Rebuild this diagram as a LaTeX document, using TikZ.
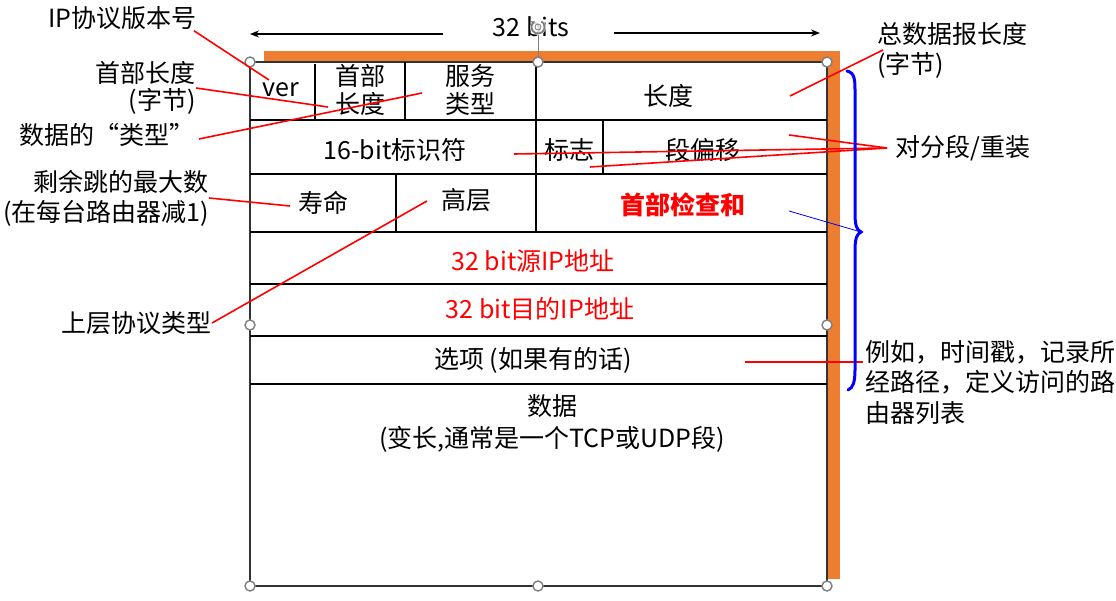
\documentclass[tikz,border=0pt]{standalone}
\usepackage{fontspec}
\setmainfont{Noto Sans CJK SC}
\usetikzlibrary{arrows.meta}
\definecolor{frameorange}{HTML}{ED7D31}
\definecolor{handlegray}{HTML}{7F7F7F}
\definecolor{pured}{HTML}{FF0000}
\definecolor{pureblue}{HTML}{0000FF}

\begin{document}
\begin{tikzpicture}[x=1pt,y=-1pt,
  txt/.style={inner sep=0pt, font=\fontsize{25}{30}\selectfont, align=center},
  cell/.style={txt},
  redtxt/.style={txt, text=pured},
  rowline/.style={line width=2pt, black},
  callout/.style={pured, line width=1.6pt},
  handle/.style={draw=handlegray, fill=white, line width=1.4pt},
]
\useasboundingbox (0,0) rectangle (1116,601);

% orange frame along the top and right sides
\fill[frameorange] (264,51) rectangle (840,62);
\fill[frameorange] (827,51) rectangle (840,579);

% header grid
\draw[line width=1.6pt, black!80] (250,62) rectangle (827,586);
\foreach \yy in {120,174,232,284,336,384}
  \draw[rowline] (250,\yy) -- (827,\yy);
\draw[rowline] (315,64) -- (315,120);
\draw[rowline] (405,62) -- (405,120);
\draw[rowline] (536,62) -- (536,174);
\draw[rowline] (603,120) -- (603,174);
\draw[rowline] (396,174) -- (396,232);
\draw[rowline] (536,174) -- (536,232);

% field names
\node[cell] (ver)    at (281,90)  {ver};
\node[cell, font=\fontsize{25}{28}\selectfont] (hl) at (360,90) {首部\\长度};
\node[cell, font=\fontsize{25}{28}\selectfont] (tos) at (470,90) {服务\\类型};
\node[cell] (len)    at (668,96)  {长度};
\node[cell] (ident)  at (395,150) {16-bit标识符};
\node[cell] (flags)  at (569,150) {标志};
\node[cell] (offset) at (703,150) {段偏移};
\node[cell] (ttl)    at (323,203) {寿命};
\node[cell] (upper)  at (466,200) {高层};
\node[redtxt, font=\fontsize{25}{30}\selectfont\bfseries] (csum) at (683,205) {首部检查和};
\node[redtxt] (src)  at (533,261) {32 bit源IP地址};
\node[redtxt] (dst)  at (540,309) {32 bit目的IP地址};
\node[cell] (opts)   at (533,360) {选项 (如果有的话)};
\node[cell, font=\fontsize{25}{32}\selectfont, anchor=north] (data) at (552,394) {数据\\(变长,通常是一个TCP或UDP段)};

% width marker
\node[txt] (width) at (531,27) {32 bits};
\draw[line width=1.4pt, -{Stealth[length=9pt,width=7pt]}] (443,34) -- (250,34);
\draw[line width=1.4pt, -{Stealth[length=9pt,width=7pt]}] (614,33) -- (820,33);

% selection handles
\draw[handlegray, line width=1pt] (538,35) -- (538,57);
\fill[white, opacity=0.85] (538,27) circle (8pt);
\draw[handlegray, line width=1.8pt, -{Stealth[length=4pt,width=5pt]}]
  (538,27) ++(60:6.5pt) arc[start angle=60, end angle=-240, radius=6.5pt];
\draw[handlegray, line width=0.8pt] (538,27) circle (3pt);
\foreach \hx/\hy in {250/62,538/62,827/62,250/325,827/325,250/586,538/586,827/586}
  \draw[handle] (\hx,\hy) circle (5pt);

% left-hand annotations
\node[txt, anchor=east] (n-ver)   at (197,18)  {IP协议版本号};
\node[txt, anchor=east, align=right, font=\fontsize{25}{27}\selectfont] (n-hl) at (196,88) {首部长度\\(字节)};
\node[txt, anchor=east] (n-tos)   at (195,135) {数据的“类型”};
\node[txt, anchor=east, align=right, font=\fontsize{25}{30}\selectfont] (n-ttl) at (209,198) {剩余跳的最大数\\(在每台路由器减1)};
\node[txt, anchor=east] (n-proto) at (212,323) {上层协议类型};

% right-hand annotations
\node[txt, anchor=west, align=left, font=\fontsize{25}{30}\selectfont] (n-len) at (877,50) {总数据报长度\\(字节)};
\node[txt, anchor=west] (n-frag) at (895,148) {对分段/重装};
\node[txt, anchor=north west, align=left, font=\fontsize{25}{30.5}\selectfont] (n-opt) at (865,340) {例如，时间戳，记录所\\经路径，定义访问的路\\由器列表};

% callout end points inside the header
\coordinate (p-ver)   at (269,80);
\coordinate (p-hl)    at (328,107);
\coordinate (p-tos)   at (422,93);
\coordinate (p-ttl)   at (290,206);
\coordinate (p-proto) at (427,201);
\coordinate (p-len)   at (790,96);
\coordinate (p-frag1) at (789,135);
\coordinate (p-frag2) at (590,167);
\coordinate (p-frag3) at (514,154);
\coordinate (p-opt)   at (745,362);
\coordinate (p-csum)  at (789,211);
\coordinate (brace-tip) at (861,232);

\draw[callout] ([xshift=-3pt,yshift=-1pt]n-ver.south east) -- (p-ver);
\draw[callout] (n-hl.east) -- (p-hl);
\draw[callout] ([xshift=4pt,yshift=-4pt]n-tos.east) -- (p-tos);
\draw[callout] (n-ttl.east) -- (p-ttl);
\draw[callout] (n-proto.east) -- (p-proto);
\draw[callout] ([xshift=6pt]n-len.west) -- (p-len);
\draw[callout] ([xshift=-8pt]n-frag.west) -- (p-frag1);
\draw[callout] ([xshift=-8pt]n-frag.west) -- (p-frag2);
\draw[callout] ([xshift=-8pt]n-frag.west) -- (p-frag3);
\draw[callout] ([xshift=-2pt,yshift=-22pt]n-opt.north west) -- (p-opt);

% header brace
\draw[pureblue, line width=3pt, line cap=round]
  (847,71) .. controls (855,73) and (855,80) .. (855,92)
  -- (855,214) .. controls (855,226) and (857,230) .. (brace-tip)
  .. controls (857,234) and (855,238) .. (855,250)
  -- (855,370) .. controls (855,382) and (853,388) .. (848,390);
\draw[pureblue, line width=0.8pt] (p-csum) -- (brace-tip);
\end{tikzpicture}
\end{document}
